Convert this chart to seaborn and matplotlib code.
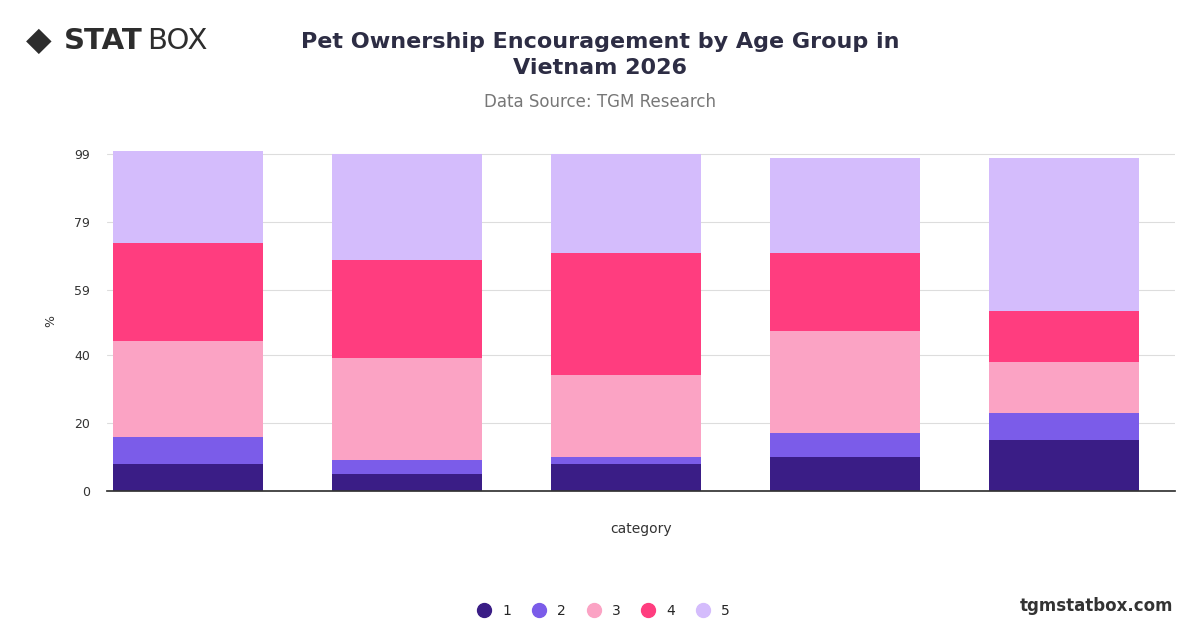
import matplotlib
matplotlib.use("Agg")
import matplotlib.pyplot as plt
import seaborn as sns
import pandas as pd
import numpy as np
from matplotlib.lines import Line2D

categories = ["A", "B", "C", "D", "E"]
series_names = ["1", "2", "3", "4", "5"]
s1 = [8, 5, 8, 10, 15]
s2 = [8, 4, 2, 7, 8]
s3 = [28, 30, 24, 30, 15]
s4 = [29, 29, 36, 23, 15]
s5 = [27, 31, 29, 28, 45]
colors = ["#3a1d86", "#7b5ce9", "#fba3c4", "#ff3d7f", "#d4bcfc"]
yticks = [0, 20, 40, 59, 79, 99]

sns.set_theme(style="white")
plt.rcParams['font.family'] = ['DejaVu Sans']
fig = plt.figure(figsize=(12, 6.28), dpi=100)
ax = fig.add_axes([0.089, 0.218, 0.890, 0.542])

series = [s1, s2, s3, s4, s5]
cum = np.cumsum(np.array(series), axis=0)
for i in range(len(series) - 1, -1, -1):
    df = pd.DataFrame({"category": categories, "value": cum[i]})
    sns.barplot(data=df, x="category", y="value", color=colors[i], width=0.685,
                saturation=1, ax=ax, zorder=2, linewidth=0, edgecolor="none")

ax.set_ylim(0, 100)
ax.set_xlim(-0.37, 4.507)
ax.set_yticks(yticks)
ax.set_yticklabels([str(t) for t in yticks], fontsize=9, color="#333333")
ax.set_xticks([])
ax.grid(axis="y", color="#dddddd", linewidth=0.8, zorder=0)
ax.set_axisbelow(True)
for s in ["top", "right", "left"]:
    ax.spines[s].set_visible(False)
ax.spines["bottom"].set_color("#333333")
ax.set_xlabel("category", fontsize=10, color="#333333", labelpad=22)
ax.set_ylabel("%", fontsize=9, color="#333333", labelpad=12)
ax.tick_params(axis="y", length=0, pad=12)

fig.text(0.5, 0.912, "Pet Ownership Encouragement by Age Group in\nVietnam 2026",
         ha="center", va="center", fontsize=16, fontweight="bold", color="#2d2d44",
         linespacing=1.35)
fig.text(0.5, 0.838, "Data Source: TGM Research", ha="center", va="center",
         fontsize=12, color="#777777")
fig.text(0.022, 0.935, "◆", ha="left", va="center", fontsize=24, color="#2d2d2d")
fig.text(0.053, 0.935, "STAT", ha="left", va="center", fontsize=21, fontweight="bold", color="#2d2d2d")
fig.text(0.123, 0.935, "BOX", ha="left", va="center", fontsize=21, color="#2d2d2d")
fig.text(0.978, 0.035, "tgmstatbox.com", ha="right", va="center", fontsize=12,
         fontweight="bold", color="#333333")

handles = [Line2D([0], [0], marker="o", linestyle="", markersize=10,
                  markerfacecolor=c, markeredgecolor=c) for c in colors]
fig.legend(handles, series_names, loc="center", bbox_to_anchor=(0.5, 0.027), ncol=5,
           frameon=False, fontsize=10, handletextpad=0.3, columnspacing=1.0)

fig.savefig("out.png", dpi=100)
